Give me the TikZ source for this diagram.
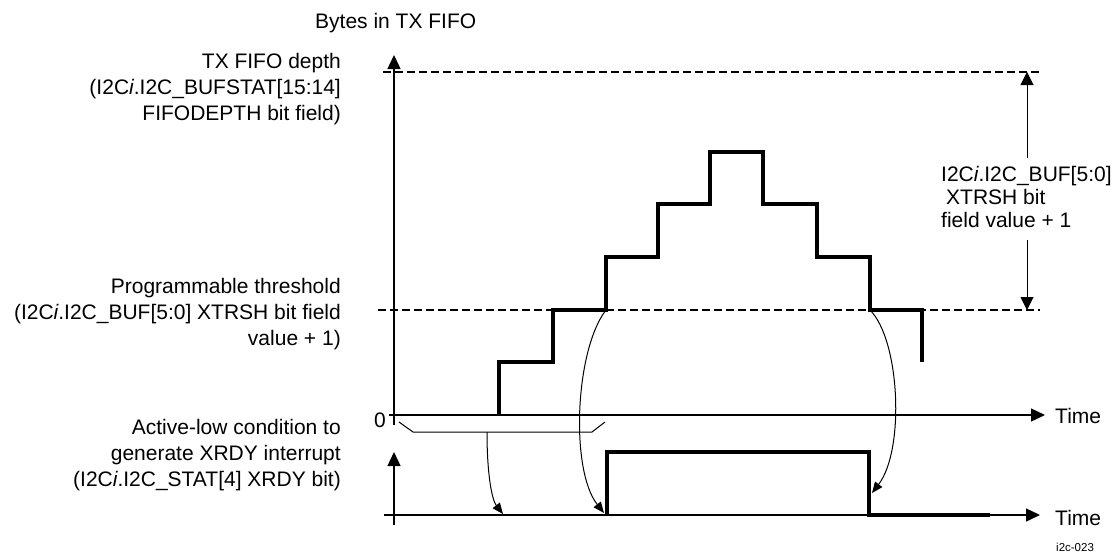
\documentclass[tikz,border=0pt]{standalone}
\usepackage{fontspec}
\setmainfont{Liberation Sans}
\usetikzlibrary{arrows.meta}
\begin{document}
\begin{tikzpicture}[x=1pt,y=-1pt,
  txt/.style={font=\fontsize{21}{26}\selectfont, inner sep=0pt},
  axisl/.style={line width=1.3pt},
  bigtip/.style={-{Triangle[length=14pt,width=13pt]}},
  dimtip/.style={line width=1pt,-{Triangle[length=13pt,width=13pt]}},
  sigl/.style={line width=3.4pt, line join=miter},
  lowl/.style={line width=2pt},
  thrl/.style={line width=1.8pt, dash pattern=on 8pt off 4pt},
  curvl/.style={line width=1pt, -{Triangle[length=11pt,width=9pt]}},
  brk/.style={line width=1pt}]
\useasboundingbox (0,0) rectangle (1117,552);
% axes
\coordinate (ytop) at (394,55);
\coordinate (ybot) at (394,425);
\coordinate (tstart) at (389,415);
\coordinate (tend) at (1045,415);
\coordinate (y2top) at (394,452);
\coordinate (y2bot) at (394,525);
\coordinate (t2start) at (384,515);
\coordinate (t2end) at (1040,515);
\draw[axisl,bigtip] (ybot) -- (ytop);
\draw[axisl,bigtip] (tstart) -- (tend);
\draw[axisl,bigtip] (y2bot) -- (y2top);
\draw[axisl,bigtip] (t2start) -- (t2end);
% dashed levels
\coordinate (dA) at (383,72);
\coordinate (dB) at (1040,72);
\coordinate (thA) at (378,310);
\coordinate (thB) at (1040,310);
\draw[thrl] (dA) -- (dB);
\draw[thrl] (thA) -- (thB);
% staircase
\coordinate (s2) at (606,310);
\coordinate (s3) at (870,310);
\draw[lowl] (394,415) -- (499,415);
\draw[sigl] (499,415) -- (499,362) -- (553,362) -- (553,310) -- (s2) -- (606,257) -- (658,257) -- (658,204) -- (710,204) -- (710,152) -- (763,152) -- (763,204) -- (817,204) -- (817,257) -- (870,257) -- (s3) -- (922,310) -- (922,362);
% XRDY signal
\draw[lowl] (394,515) -- (607,515);
\draw[sigl] (607,515) -- (607,452) -- (869,452) -- (869,515) -- (990,515);
% bracket
\coordinate (bm) at (487,432);
\draw[brk] (399,422) -- (413,432) -- (bm) -- (592,432) -- (605,422);
% curved arrows
\coordinate (e1) at (503,514);
\coordinate (e2) at (604,513);
\coordinate (e3) at (872,493);
\draw[curvl] (bm) .. controls (487,475) and (492,500) .. (e1);
\draw[curvl] (s2) .. controls (575,350) and (570,470) .. (e2);
\draw[curvl] (s3) .. controls (900,340) and (905,450) .. (e3);
% dimension arrow
\coordinate (dimtop) at (1027,72);
\coordinate (dimbot) at (1027,310);
\coordinate (dimup) at (1027,158);
\coordinate (dimdn) at (1027,240);
\draw[dimtip] (dimup) -- (dimtop);
\draw[dimtip] (dimdn) -- (dimbot);
\node[font=\fontsize{21}{23}\selectfont, inner sep=0pt, anchor=north west, align=left] (dimlbl) at (941,166) {I2C\textit{i}.I2C\_BUF[5:0]\\\hspace*{5pt}XTRSH bit\\field value + 1};
% labels
\node[txt, anchor=base west] (ylabel) at (315,28) {Bytes in TX FIFO};
\node[txt, anchor=north east, align=right] (depthlbl) at (341,53) {TX FIFO depth\\(I2C\textit{i}.I2C\_BUFSTAT[15:14]\\FIFODEPTH bit field)};
\node[txt, anchor=north east, align=right] (thrlbl) at (341,278) {Programmable threshold\\(I2C\textit{i}.I2C\_BUF[5:0] XTRSH bit field\\value + 1)};
\node[txt, anchor=north east, align=right] (xrdylbl) at (341,419) {Active-low condition to\\generate XRDY interrupt\\(I2C\textit{i}.I2C\_STAT[4] XRDY bit)};
\node[txt, anchor=east] (zero) at (386,420) {0};
\node[txt, anchor=base west] (time1) at (1055,423) {Time};
\node[txt, anchor=base west] (time2) at (1055,525) {Time};
\node[font=\fontsize{11.5}{13}\selectfont, inner sep=0pt, anchor=base west] (fig) at (1056,551) {i2c-023};
\end{tikzpicture}
\end{document}
